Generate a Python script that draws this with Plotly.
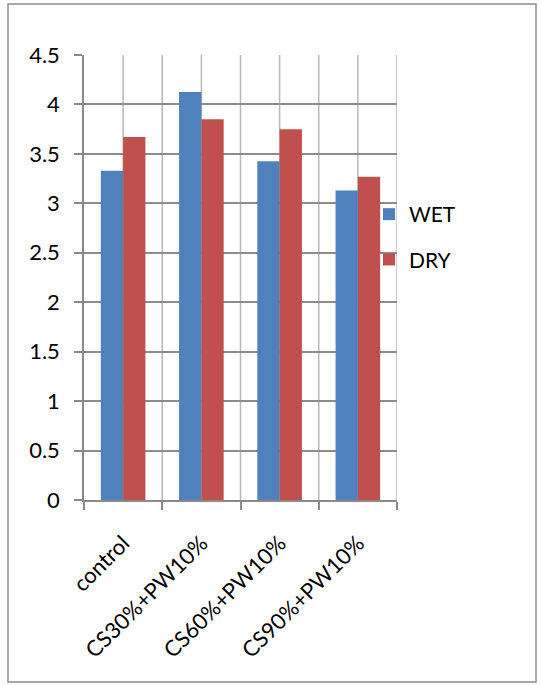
import plotly.graph_objects as go

categories = ["control", "CS30%+PW10%", "CS60%+PW10%", "CS90%+PW10%"]
wet = [3.33, 4.125, 3.425, 3.13]
dry = [3.67, 3.85, 3.75, 3.27]
y_ticks = [0, 0.5, 1, 1.5, 2, 2.5, 3, 3.5, 4, 4.5]
y_tick_text = ["0", "0.5", "1", "1.5", "2", "2.5", "3", "3.5", "4", "4.5"]

FONT = "Lato, Carlito, Calibri, sans-serif"

fig = go.Figure()
fig.add_trace(go.Bar(x=categories, y=wet, name="WET", marker_color="#4F81BD",
                     legendgroup="a", marker_line_width=0))
fig.add_trace(go.Bar(x=categories, y=dry, name="DRY", marker_color="#C0504D",
                     legendgroup="b", marker_line_width=0))

W, H = 541, 686
L, R, T, B = 84, 397, 55, 500
pw, ph = R - L, B - T

fig.update_layout(
    width=W, height=H,
    margin=dict(l=L, r=W - R, t=T, b=H - B, pad=0),
    paper_bgcolor="white", plot_bgcolor="white",
    font=dict(family=FONT, size=22, color="black"),
    barmode="group", bargap=0.43, bargroupgap=0,
    showlegend=True,
    legend=dict(x=(369 - L) / pw, xanchor="left", y=(B - 194) / ph, yanchor="top",
                traceorder="grouped", tracegroupgap=15,
                font=dict(family=FONT, size=21), bgcolor="rgba(0,0,0,0)"),
    xaxis=dict(type="category", tickson="boundaries", showgrid=False,
               ticks="outside", ticklen=8, tickcolor="#8a8a8a", tickwidth=1.5,
               showline=True, linecolor="#8a8a8a", linewidth=1.5,
               tickangle=-45, ticklabelstandoff=20,
               range=[-0.5, 3.5], tickfont=dict(size=22)),
    yaxis=dict(range=[0, 4.5], tickvals=y_ticks, ticktext=y_tick_text,
               showgrid=True, gridcolor="#8c8c8c", gridwidth=1.5,
               ticks="outside", ticklen=8, tickcolor="#8a8a8a", tickwidth=1.5,
               showline=True, linecolor="#8a8a8a", linewidth=1.5,
               zeroline=False, ticklabelstandoff=10, tickfont=dict(size=22)),
)

# vertical gridlines at category boundaries and centres (Excel-style)
n = len(categories)
for k in range(1, 2 * n + 1):
    xv = -0.5 + k * 0.5
    fig.add_shape(type="line", xref="x", yref="paper", x0=xv, x1=xv, y0=0, y1=1,
                  line=dict(color="#b8b8b8", width=1.5), layer="below")

# outer chart border
fig.add_shape(type="rect", xref="paper", yref="paper",
              x0=(8 - L) / pw, x1=(536 - L) / pw,
              y0=(B - 682) / ph, y1=(B - 4) / ph,
              line=dict(color="#8c8c8c", width=1.5), fillcolor="rgba(0,0,0,0)",
              layer="above")

fig.write_html("out.html", config={"displayModeBar": False},
               post_script="document.body.style.margin='0';document.body.style.padding='0';")
